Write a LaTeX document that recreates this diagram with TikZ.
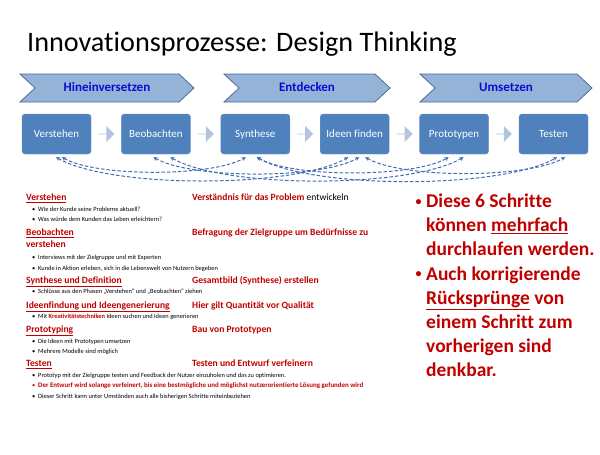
\documentclass[tikz,border=0pt]{standalone}
\usepackage{fontspec}
\setmainfont{Carlito}[Ligatures=NoCommon]
\usepackage{xcolor}
\usepackage{tikz}
\usetikzlibrary{arrows.meta, positioning, shapes.arrows, calc}

\definecolor{redtext}{HTML}{C00000}
\definecolor{boxblue}{HTML}{4F81BD}
\definecolor{boxedge}{HTML}{6A95CA}
\definecolor{phasefill}{HTML}{95B3D7}
\definecolor{phaseedge}{HTML}{4A6A98}
\definecolor{phaseblue}{HTML}{0A0AD8}
\definecolor{gapgrey}{HTML}{B3C4DF}
\definecolor{jumpblue}{HTML}{3E6DB3}

\begin{document}
\begin{tikzpicture}[x=1pt, y=-1pt,
  stepbox/.style={rectangle, rounded corners=3pt, fill=boxblue, draw=boxedge,
    minimum width=69pt, minimum height=40pt, inner sep=2pt, text=white,
    text height=8pt, text depth=2pt, font=\fontsize{11}{13}\selectfont},
  phase/.style={fill=phasefill, draw=phaseedge, line width=0.8pt},
  phasetext/.style={text=phaseblue, text height=9pt, text depth=2pt,
    font=\fontsize{13}{15}\selectfont\bfseries},
  gaparrow/.style={single arrow, fill=gapgrey, draw=none, inner sep=0pt,
    minimum height=16pt, minimum width=16pt, single arrow head extend=4pt},
  jump/.style={{Stealth[length=4pt,width=4pt]}-{Stealth[length=4pt,width=4pt]},
    jumpblue, line width=1pt, dash pattern=on 3.5pt off 2pt,
    out=-30, in=-150, looseness=0.55},
  head/.style={anchor=base west, inner sep=0pt, text=redtext,
    font=\fontsize{9.6}{11}\selectfont\bfseries},
  note/.style={anchor=base west, inner sep=0pt,
    font=\fontsize{6.4}{7.5}\selectfont},
  claim/.style={anchor=base west, inner sep=0pt, text=redtext,
    font=\fontsize{19.5}{24}\selectfont\bfseries}]
\useasboundingbox (0,0) rectangle (600,455);

% title
\node[anchor=base west, inner sep=0pt, font=\fontsize{28.2}{32}\selectfont] (title) at (27,51) {Innovationsprozesse: Design Thinking};

% phases
\foreach \l/\r/\t [count=\i] in {20/194/Hineinversetzen, 224/390/Entdecken, 420/592/Umsetzen} {
  \draw[phase] (\l,74) -- ({\r-15},74) -- (\r,88) -- ({\r-15},102) -- (\l,102) -- ({\l+15},88) -- cycle;
  \node[phasetext] (ph\i) at ({(\l+\r)/2},88) {\t};
}

% steps
\node[stepbox] (verstehen) at (56.5,134) {Verstehen};
\node[stepbox, right=30pt of verstehen] (beobachten) {Beobachten};
\node[stepbox, right=30pt of beobachten] (synthese) {Synthese};
\node[stepbox, right=30pt of synthese] (ideen) {Ideen finden};
\node[stepbox, right=30pt of ideen] (prototypen) {Prototypen};
\node[stepbox, right=30pt of prototypen] (testen) {Testen};

\foreach \a/\b in {verstehen/beobachten, beobachten/synthese, synthese/ideen, ideen/prototypen, prototypen/testen}
  \node[gaparrow] (gap-\a) at ($(\a.east)!0.5!(\b.west)$) {};

% jumps back and forth
\draw[jump] ([xshift=5.5pt,yshift=-3pt]verstehen.south) to ([xshift=-9.5pt,yshift=-3pt]synthese.south);
\draw[jump] ([xshift=-0.5pt,yshift=-3pt]verstehen.south) to ([xshift=-6.5pt,yshift=-3pt]ideen.south);
\draw[jump] ([xshift=-2.5pt,yshift=-3pt]beobachten.south) to ([xshift=4.5pt,yshift=-3pt]ideen.south);
\draw[jump] ([xshift=14.5pt,yshift=-3pt]beobachten.south) to ([xshift=9.5pt,yshift=-3pt]prototypen.south);
\draw[jump] ([xshift=1.5pt,yshift=-3pt]synthese.south) to ([xshift=-5.5pt,yshift=-3pt]prototypen.south);
\draw[jump] ([xshift=1.5pt,yshift=-3pt]synthese.south) to ([xshift=3.5pt,yshift=-3pt]testen.south);
\draw[jump] ([xshift=10.5pt,yshift=-3pt]ideen.south) to ([xshift=11.5pt,yshift=-3pt]testen.south);

% left column
\node[head] (h1) at (26,200.5) {\underline{Verstehen}};
\node[head] (r1) at (192,200.5) {Verständnis für das Problem \textcolor{black}{\mdseries entwickeln}};
\node[head] (h2) at (26,235.5) {\underline{Beobachten}};
\node[head] (r2) at (192,235.5) {Befragung der Zielgruppe um Bedürfnisse zu};
\node[head] (h2b) at (26,247.5) {verstehen};
\node[head] (h3) at (26,283.5) {\underline{Synthese und Definition}};
\node[head] (r3) at (192,283.5) {Gesamtbild (Synthese) erstellen};
\node[head] (h4) at (26,308.5) {\underline{Ideenfindung und Ideengenerierung}};
\node[head] (r4) at (192,308.5) {Hier gilt Quantität vor Qualität};
\node[head] (h5) at (26,332.5) {\underline{Prototyping}};
\node[head] (r5) at (192,332.5) {Bau von Prototypen};
\node[head] (h6) at (26,366.5) {\underline{Testen}};
\node[head] (r6) at (192,366.5) {Testen und Entwurf verfeinern};

\foreach \y/\c/\t [count=\i] in {
  211.3/black/{Wie der Kunde seine Probleme aktuell?},
  221.3/black/{Was würde dem Kunden das Leben erleichtern?},
  259.3/black/{Interviews mit der Zielgruppe und mit Experten},
  270.3/black/{Kunde in Aktion erleben, sich in die Lebenswelt von Nutzern begeben},
  293.3/black/{Schlüsse aus den Phasen „Verstehen“ und „Beobachten“ ziehen},
  318.3/black/{Mit \textcolor{redtext}{\bfseries Kreativitätstechniken} Ideen suchen und Ideen generieren},
  343.3/black/{Die Ideen mit Prototypen umsetzen},
  353.3/black/{Mehrere Modelle sind möglich},
  377.3/black/{Prototyp mit der Zielgruppe testen und Feedback der Nutzer einzuholen und das zu optimieren.},
  387.3/redtext/{\fontsize{6.9}{8}\selectfont\bfseries Der Entwurf wird solange verfeinert, bis eine bestmögliche und möglichst nutzerorientierte Lösung gefunden wird},
  398.3/black/{Dieser Schritt kann unter Umständen auch alle bisherigen Schritte miteinbeziehen}}
  \node[note, text=\c] (pt\i) at (32,\y) {\makebox[6pt][l]{\textbullet}\t};

% right column
\foreach \y/\t [count=\i] in {207.5/{Diese 6 Schritte}, 231.6/{können \underline{mehrfach}},
  255.8/{durchlaufen werden.}, 280/{Auch korrigierende}, 304.1/{\underline{Rücksprünge} von},
  328.3/{einem Schritt zum}, 352.4/{vorherigen sind}, 376.6/{denkbar.}}
  \node[claim] (cl\i) at (426,\y) {\t};
\node[claim, font=\fontsize{12}{14}\selectfont\bfseries] (dot1) at (415.5,205) {\textbullet};
\node[claim, font=\fontsize{12}{14}\selectfont\bfseries] (dot2) at (415.5,277.5) {\textbullet};
\end{tikzpicture}
\end{document}
